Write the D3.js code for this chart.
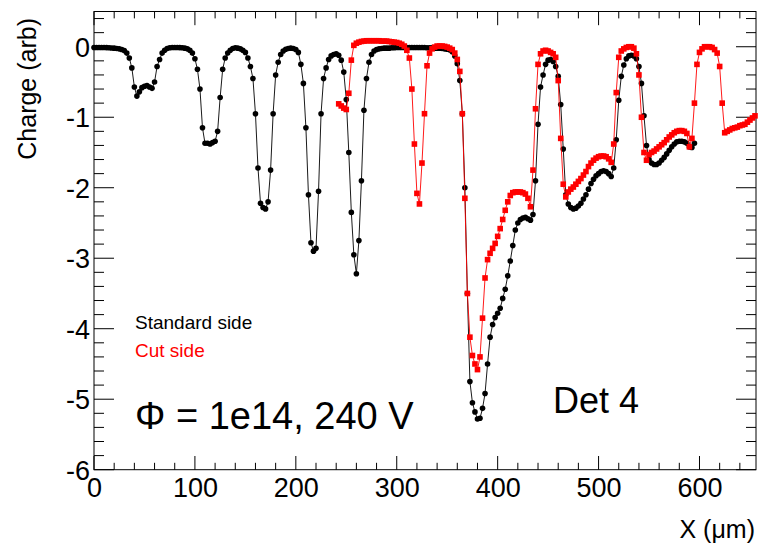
<!DOCTYPE html>
<html><head><meta charset="utf-8">
<script src="https://cdn.jsdelivr.net/npm/d3@7/dist/d3.min.js"></script>
<style>
body{margin:0;background:#fff}
svg{display:block}
text{font-family:"Liberation Sans",Arial,Helvetica,sans-serif}
</style>
</head><body>
<svg id="chart" width="759" height="550"></svg>
<script>
// scan grid (µm)
const stdStartX = 0, cutStartX = 242.5, stepX = 2.5;
// Standard side charge (arb), one value per scan step
const standardSide = [
 -0.01,-0.01,-0.01,-0.01,-0.01,-0.012,-0.015,-0.017,-0.02,-0.025,
 -0.03,-0.04,-0.055,-0.09,-0.16,-0.30,-0.57,-0.70,-0.64,-0.58,
 -0.56,-0.55,-0.57,-0.59,-0.50,-0.28,-0.18,-0.09,-0.05,-0.025,
 -0.015,-0.01,-0.01,-0.01,-0.012,-0.015,-0.02,-0.03,-0.05,-0.09,
 -0.17,-0.32,-0.60,-1.15,-1.37,-1.37,-1.38,-1.36,-1.34,-1.20,
 -0.72,-0.32,-0.16,-0.09,-0.05,-0.025,-0.015,-0.02,-0.03,-0.05,
 -0.08,-0.16,-0.28,-0.45,-0.95,-1.72,-2.22,-2.28,-2.30,-2.20,
 -1.75,-0.95,-0.40,-0.22,-0.11,-0.06,-0.035,-0.025,-0.02,-0.025,
 -0.04,-0.08,-0.25,-0.52,-1.15,-2.10,-2.78,-2.90,-2.86,-2.05,
 -0.95,-0.45,-0.30,-0.18,-0.13,-0.11,-0.10,-0.12,-0.19,-0.36,
 -0.75,-1.50,-2.35,-2.95,-3.22,-2.75,-1.90,-0.90,-0.45,-0.22,
 -0.11,-0.06,-0.04,-0.03,-0.025,-0.02,-0.02,-0.02,-0.015,-0.015,
 -0.01,-0.01,-0.01,-0.01,-0.01,-0.01,-0.01,-0.01,-0.01,-0.01,
 -0.01,-0.01,-0.015,-0.015,-0.015,-0.02,-0.02,-0.02,-0.025,-0.03,
 -0.035,-0.045,-0.07,-0.13,-0.24,-0.48,-0.95,-2.00,-3.50,-4.75,
 -5.05,-5.18,-5.28,-5.27,-5.13,-4.92,-4.50,-4.12,-3.94,-3.84,
 -3.78,-3.71,-3.57,-3.44,-3.25,-3.04,-2.82,-2.60,-2.50,-2.45,
 -2.43,-2.42,-2.44,-2.46,-2.38,-1.90,-1.10,-0.57,-0.40,-0.25,
 -0.19,-0.18,-0.21,-0.28,-0.42,-0.82,-1.45,-2.10,-2.23,-2.28,
 -2.30,-2.29,-2.26,-2.22,-2.16,-2.10,-2.02,-1.94,-1.88,-1.83,
 -1.80,-1.77,-1.76,-1.77,-1.80,-1.84,-1.72,-1.32,-0.76,-0.42,
 -0.26,-0.17,-0.13,-0.12,-0.13,-0.17,-0.28,-0.52,-0.98,-1.40,
 -1.60,-1.65,-1.67,-1.67,-1.65,-1.61,-1.57,-1.52,-1.47,-1.42,
 -1.38,-1.35,-1.34,-1.34,-1.35,-1.37,-1.42,-1.43,-1.37
];
// Cut side charge (arb)
const cutSide = [
 -0.81,-0.84,-0.87,-0.89,-0.66,-0.19,0.02,0.05,0.065,0.075,
 0.08,0.085,0.085,0.085,0.085,0.085,0.085,0.08,0.08,0.08,
 0.075,0.07,0.065,0.06,0.05,0.035,0.01,-0.05,-0.16,-0.60,
 -1.38,-2.08,-2.23,-1.65,-0.95,-0.27,-0.09,-0.03,-0.005,0.01,
 0.01,0.01,0.005,-0.005,-0.02,-0.04,-0.09,-0.18,-0.35,-0.95,
 -2.15,-3.50,-4.12,-4.38,-4.50,-4.58,-4.40,-3.85,-3.28,-3.02,
 -2.93,-2.86,-2.79,-2.69,-2.58,-2.45,-2.32,-2.20,-2.11,-2.07,
 -2.06,-2.06,-2.06,-2.07,-2.09,-2.15,-2.27,-1.75,-0.88,-0.25,
 -0.10,-0.06,-0.05,-0.06,-0.08,-0.10,-0.15,-0.48,-1.30,-1.95,
 -2.13,-2.06,-2.02,-1.99,-1.95,-1.91,-1.87,-1.82,-1.77,-1.70,
 -1.65,-1.61,-1.58,-1.56,-1.55,-1.55,-1.56,-1.59,-1.64,-1.38,
 -0.65,-0.15,-0.06,-0.03,-0.01,0.0,0.0,-0.02,-0.10,-0.40,
 -1.00,-1.50,-1.61,-1.53,-1.50,-1.48,-1.45,-1.42,-1.39,-1.36,
 -1.32,-1.28,-1.25,-1.22,-1.20,-1.19,-1.19,-1.20,-1.23,-1.42,
 -1.30,-0.80,-0.25,-0.08,-0.03,0.0,0.0,0.0,-0.01,-0.04,
 -0.09,-0.28,-0.80,-1.22,-1.20,-1.18,-1.16,-1.15,-1.14,-1.12,
 -1.11,-1.10,-1.07,-1.04,-1.01,-0.98
];
const xTickValues = [0,100,200,300,400,500,600];
const yTickValues = [0,-1,-2,-3,-4,-5,-6];
const legendLabels = ["Standard side","Cut side"];

const W = 759, H = 550;
const frame = {left:94, right:756, top:11.5, bottom:469.7};
const x = d3.scaleLinear().domain([0,656]).range([frame.left, frame.right]);
const y = d3.scaleLinear().domain([-6,0.5]).range([frame.bottom, frame.top]);

const svg = d3.select("#chart");
const stdData = standardSide.map((v,i)=>({x:stdStartX+i*stepX, y:v}));
const cutData = cutSide.map((v,i)=>({x:cutStartX+i*stepX, y:v}));

// frame
svg.append("rect").attr("x",frame.left).attr("y",frame.top)
  .attr("width",frame.right-frame.left).attr("height",frame.bottom-frame.top)
  .attr("fill","none").attr("stroke","#000").attr("stroke-width",1);

// ticks (ROOT style, inside, all four sides)
const xMinor = d3.range(0,657,20);
const yMinor = d3.range(-6,0.51,0.2).map(v=>+v.toFixed(2));
const tg = svg.append("g").attr("stroke","#000").attr("stroke-width",1);
xMinor.forEach(v=>{
  const major = Math.abs(v%100)<1e-6;
  const L = major?13.7:6.9;
  tg.append("line").attr("x1",x(v)).attr("x2",x(v)).attr("y1",frame.bottom).attr("y2",frame.bottom-L);
  tg.append("line").attr("x1",x(v)).attr("x2",x(v)).attr("y1",frame.top).attr("y2",frame.top+L);
});
yMinor.forEach(v=>{
  const major = Math.abs(v-Math.round(v))<1e-6;
  const L = major?20:10;
  tg.append("line").attr("y1",y(v)).attr("y2",y(v)).attr("x1",frame.left).attr("x2",frame.left+L);
  tg.append("line").attr("y1",y(v)).attr("y2",y(v)).attr("x1",frame.right).attr("x2",frame.right-L);
});

// tick labels via d3 axes (hyphen-minus as in the reference)
const fmt = d => String(d);
const xAxis = d3.axisBottom(x).tickValues(xTickValues).tickSize(0).tickPadding(0).tickFormat(fmt);
const gx = svg.append("g").attr("transform",`translate(0,${frame.bottom})`).call(xAxis);
gx.select(".domain").remove();
gx.selectAll("text").attr("font-size",27).attr("fill","#000").attr("dy",null).attr("y",27)
  .attr("font-family","'Liberation Sans',Arial,sans-serif");
const yAxis = d3.axisLeft(y).tickValues(yTickValues).tickSize(0).tickPadding(0).tickFormat(fmt);
const gy = svg.append("g").attr("transform",`translate(${frame.left-4},0)`).call(yAxis);
gy.select(".domain").remove();
gy.selectAll("text").attr("font-size",27).attr("fill","#000").attr("dy","0.36em")
  .attr("font-family","'Liberation Sans',Arial,sans-serif");

// axis titles
svg.append("text").attr("transform","translate(36,18) rotate(-90)")
  .attr("text-anchor","end").attr("font-size",25).text("Charge (arb)");
svg.append("text").attr("x",755).attr("y",538).attr("text-anchor","end")
  .attr("font-size",25).text("X (\u03bcm)");

// series
const line = d3.line().x(d=>x(d.x)).y(d=>y(d.y));
svg.append("path").datum(stdData).attr("d",line).attr("fill","none")
  .attr("stroke","#000").attr("stroke-width",0.9);
svg.append("g").selectAll("circle").data(stdData).join("circle")
  .attr("cx",d=>x(d.x)).attr("cy",d=>y(d.y)).attr("r",2.8).attr("fill","#000");
svg.append("path").datum(cutData).attr("d",line).attr("fill","none")
  .attr("stroke","#ff0000").attr("stroke-width",0.9);
const s = 5.6;
svg.append("g").selectAll("rect").data(cutData).join("rect")
  .attr("x",d=>x(d.x)-s/2).attr("y",d=>y(d.y)-s/2).attr("width",s).attr("height",s).attr("fill","#ff0000");

// legend
svg.append("text").attr("x",135).attr("y",329).attr("font-size",19).attr("fill","#000").text(legendLabels[0]);
svg.append("text").attr("x",135).attr("y",357).attr("font-size",19).attr("fill","#ff0000").text(legendLabels[1]);

// annotations
svg.append("text").attr("x",135).attr("y",429).attr("font-size",38).attr("fill","#000")
  .text("\u03a6 = 1e14, 240 V");
svg.append("text").attr("x",553).attr("y",413).attr("font-size",36).attr("fill","#000")
  .text("Det 4");
</script>
</body></html>
